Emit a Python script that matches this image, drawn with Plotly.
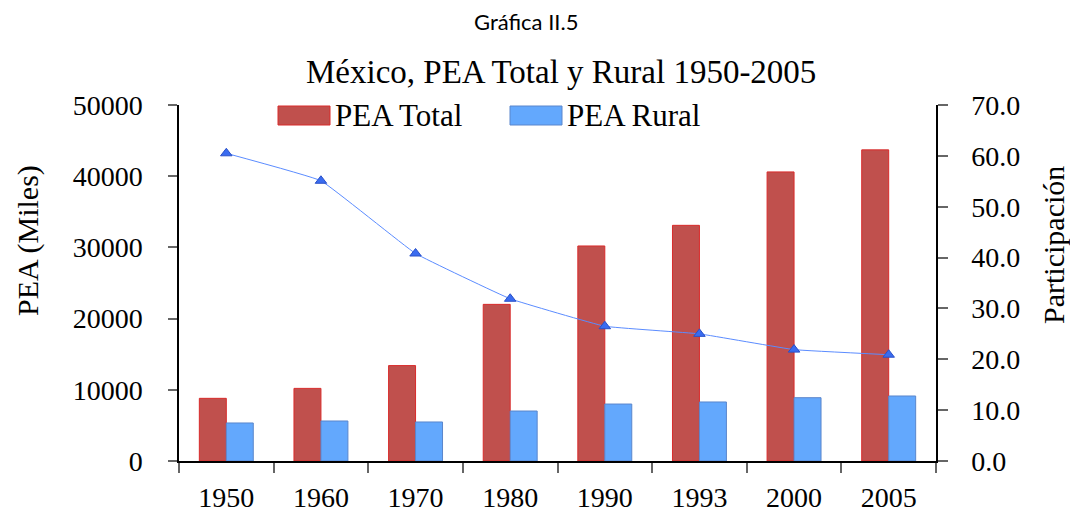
import plotly.graph_objects as go

years = ["1950", "1960", "1970", "1980", "1990", "1993", "2000", "2005"]
pea_total = [8800, 10200, 13400, 22000, 30200, 33100, 40600, 43700]
pea_rural = [5340, 5620, 5480, 7020, 8000, 8290, 8890, 9130]
participacion = [60.5, 55.1, 40.8, 31.9, 26.5, 25.0, 21.9, 20.9]

left_ticks = [0, 10000, 20000, 30000, 40000, 50000]
right_ticks = [0, 10, 20, 30, 40, 50, 60, 70]

SERIF = "Liberation Serif, Times New Roman, serif"
RED_FILL, RED_LINE = "#C0504D", "#D92B2B"
BLUE_FILL, BLUE_LINE = "#63A8FD", "#5A86CC"

fig = go.Figure()
fig.add_trace(go.Bar(x=years, y=pea_total, name="PEA Total",
                     marker=dict(color=RED_FILL, line=dict(color=RED_LINE, width=1)),
                     yaxis="y", xaxis="x"))
fig.add_trace(go.Bar(x=years, y=pea_rural, name="PEA Rural",
                     marker=dict(color=BLUE_FILL, line=dict(color=BLUE_LINE, width=1)),
                     yaxis="y", xaxis="x"))
fig.add_trace(go.Scatter(x=years, y=participacion, name="Participación",
                         mode="lines+markers", yaxis="y2", xaxis="x",
                         line=dict(color="#5B8CFF", width=1, shape="spline", smoothing=0.25),
                         marker=dict(symbol="triangle-up", size=10, color="#3A6CF0",
                                     line=dict(color="#2A50C8", width=1))))

tickcol = "#666666"
fig.update_layout(
    width=1070, height=514,
    paper_bgcolor="white", plot_bgcolor="white",
    margin=dict(l=179, r=134, t=105, b=53, autoexpand=False),
    showlegend=False,
    barmode="group", bargap=0.43, bargroupgap=0.0,
    font=dict(family=SERIF, size=28, color="black"),
    xaxis=dict(type="category", categoryorder="array", categoryarray=years,
               range=[-0.5, 7.5], tickson="boundaries", ticks="outside", ticklen=10,
               tickcolor=tickcol, tickwidth=1.5, automargin=False,
               showline=True, linecolor="black", linewidth=1.5, showgrid=False,
               tickfont=dict(family=SERIF, size=28), ticklabelstandoff=11),
    xaxis2=dict(overlaying="x", anchor="y", side="bottom", range=[-0.5, 7.5],
                tickvals=[i - 0.5 for i in range(len(years) + 1)], automargin=False,
                ticks="inside", ticklen=10, tickcolor=tickcol, tickwidth=1.5,
                showticklabels=False, showline=False, showgrid=False, zeroline=False),
    yaxis=dict(range=[0, 50000], tickvals=left_ticks, tickformat="d", ticks="outside", ticklen=9,
               tickcolor=tickcol, tickwidth=1.5, automargin=False,
               showline=True, linecolor="black", linewidth=1.5, showgrid=False,
               zeroline=False, tickfont=dict(family=SERIF, size=28),
               ticklabelstandoff=20),
    yaxis3=dict(overlaying="y", anchor="x", side="left", range=[0, 50000],
                tickvals=left_ticks, ticks="inside", ticklen=9, tickcolor=tickcol,
                tickwidth=1.5, showticklabels=False, showline=False, showgrid=False,
                zeroline=False, automargin=False),
    yaxis2=dict(overlaying="y", anchor="x", side="right", range=[0, 70],
                tickvals=right_ticks, tickformat=".1f", ticks="outside", ticklen=10,
                tickcolor=tickcol, tickwidth=1.5, automargin=False,
                showline=True, linecolor="black", linewidth=1.5, showgrid=False,
                zeroline=False, tickfont=dict(family=SERIF, size=28),
                ticklabelstandoff=18),
    yaxis4=dict(overlaying="y", anchor="x", side="right", range=[0, 70],
                tickvals=right_ticks, ticks="inside", ticklen=10, tickcolor=tickcol,
                tickwidth=1.5, showticklabels=False, showline=False, showgrid=False,
                zeroline=False, automargin=False),
)

def px_x(v):
    return (v - 179) / (936 - 179)

def px_y(v):
    return (461 - v) / 356

# Axis titles
fig.add_annotation(text="PEA (Miles)", xref="paper", yref="paper",
                   x=px_x(28), y=px_y(241), xanchor="center", yanchor="middle",
                   textangle=-90, showarrow=False,
                   font=dict(family=SERIF, size=30, color="black"))
fig.add_annotation(text="Participación", xref="paper", yref="paper",
                   x=px_x(1053), y=px_y(245), xanchor="center", yanchor="middle",
                   textangle=-90, showarrow=False,
                   font=dict(family=SERIF, size=30, color="black"))

# Titles
fig.add_annotation(text="Gráfica II.5", xref="paper", yref="paper",
                   x=px_x(526), y=px_y(22),
                   xanchor="center", yanchor="middle", showarrow=False,
                   font=dict(family="Lato, Open Sans, sans-serif", size=22, color="black"))
fig.add_annotation(text="México, PEA Total y Rural 1950-2005", xref="paper", yref="paper",
                   x=px_x(561), y=px_y(72),
                   xanchor="center", yanchor="middle", showarrow=False,
                   font=dict(family=SERIF, size=33, color="black"))

# Legend (drawn manually)
legend_items = [("PEA Total", RED_FILL, RED_LINE, 278), ("PEA Rural", BLUE_FILL, BLUE_LINE, 510)]
for label, fill, line, x0 in legend_items:
    fig.add_shape(type="rect", xref="paper", yref="paper",
                  x0=px_x(x0), x1=px_x(x0 + 52), y0=px_y(125), y1=px_y(106),
                  fillcolor=fill, line=dict(color=line, width=1))
    fig.add_annotation(text=label, xref="paper", yref="paper",
                       x=px_x(x0 + 55), y=px_y(115.5), xanchor="left", yanchor="middle",
                       showarrow=False, font=dict(family=SERIF, size=31, color="black"))

fig.write_html("out.html", config={"displayModeBar": False},
               post_script="document.body.style.margin='0';document.body.style.overflow='hidden';")
